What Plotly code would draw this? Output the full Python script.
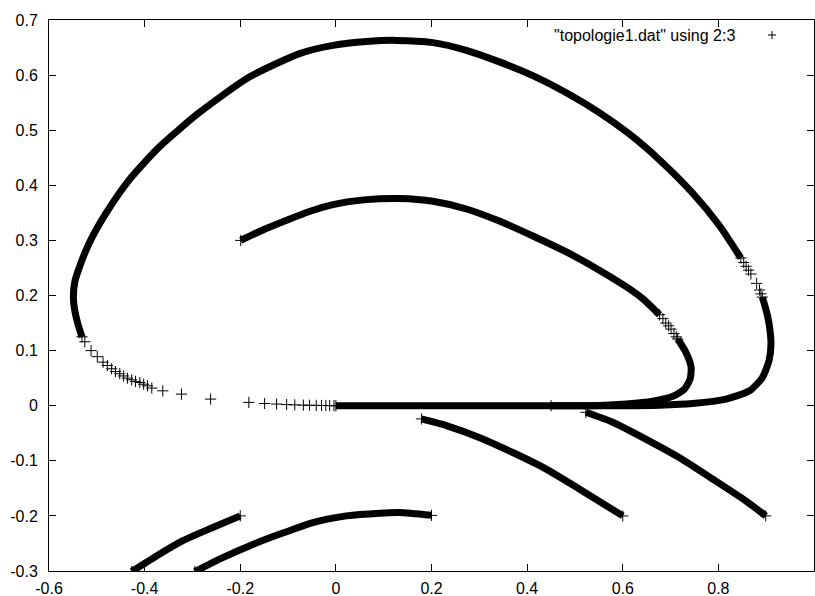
import plotly.graph_objects as go

# ---- data (x = column 2, y = column 3) ----
# outer loop, dense part (upper arc down to the right turning point)
outer_a_x = [-0.531, -0.540, -0.546, -0.549, -0.546, -0.537, -0.516, -0.481, -0.433, -0.370,
             -0.287, -0.182, -0.076, -0.006, 0.064, 0.126, 0.203, 0.273, 0.342, 0.412,
             0.482, 0.551, 0.614, 0.677, 0.746, 0.802, 0.847]
outer_a_y = [0.125, 0.150, 0.172, 0.197, 0.225, 0.250, 0.295, 0.349, 0.409, 0.469,
             0.531, 0.596, 0.639, 0.654, 0.661, 0.663, 0.659, 0.645, 0.624, 0.599,
             0.568, 0.532, 0.493, 0.446, 0.386, 0.327, 0.268]
# outer loop, sparse samples on the right side
outer_gap_x = [0.853, 0.858, 0.863, 0.868, 0.880, 0.886, 0.889]
outer_gap_y = [0.260, 0.253, 0.246, 0.239, 0.222, 0.210, 0.203]
# outer loop, lower branch back along y = 0
outer_b_x = [0.892, 0.900, 0.906, 0.910, 0.906, 0.892, 0.865, 0.816, 0.746, 0.677, 0.600,
             0.500, 0.400, 0.200, 0.000]
outer_b_y = [0.197, 0.173, 0.149, 0.112, 0.082, 0.051, 0.027, 0.012, 0.004, 0.001, 0.000,
             0.000, 0.000, 0.000, 0.000]
# sparse tail on the left
tail_x = [-0.525, -0.512, -0.499, -0.487, -0.478, -0.469, -0.461, -0.452, -0.444, -0.436,
          -0.427, -0.419, -0.410, -0.402, -0.394, -0.385, -0.362, -0.323, -0.262, -0.182,
          -0.149, -0.124, -0.103, -0.086, -0.068, -0.055, -0.041, -0.030, -0.021, -0.013, -0.004]
tail_y = [0.116, 0.100, 0.089, 0.079, 0.073, 0.067, 0.062, 0.058, 0.054, 0.050,
          0.047, 0.044, 0.042, 0.039, 0.036, 0.032, 0.027, 0.021, 0.012, 0.006,
          0.004, 0.003, 0.002, 0.0015, 0.001, 0.0008, 0.0006, 0.0004, 0.0003, 0.0002, 0.0001]
# inner loop
inner_a_x = [-0.199, -0.147, -0.099, -0.057, -0.006, 0.064, 0.133, 0.203, 0.273, 0.342,
             0.412, 0.482, 0.551, 0.607, 0.642, 0.677]
inner_a_y = [0.300, 0.321, 0.338, 0.352, 0.365, 0.374, 0.376, 0.371, 0.357, 0.335,
             0.308, 0.279, 0.246, 0.216, 0.194, 0.165]
inner_gap_x = [0.684, 0.690, 0.696, 0.701, 0.707, 0.712]
inner_gap_y = [0.158, 0.150, 0.145, 0.139, 0.131, 0.125]
inner_b_x = [0.715, 0.732, 0.743, 0.741, 0.729, 0.705, 0.663, 0.607, 0.537, 0.450]
inner_b_y = [0.121, 0.097, 0.070, 0.049, 0.030, 0.017, 0.008, 0.003, 0.000, 0.000]
# lower branches
seg_right_x = [0.523, 0.579, 0.649, 0.718, 0.788, 0.858, 0.899]
seg_right_y = [-0.012, -0.030, -0.061, -0.094, -0.133, -0.173, -0.200]
seg_mid_x = [0.179, 0.231, 0.301, 0.370, 0.440, 0.509, 0.600]
seg_mid_y = [-0.024, -0.036, -0.058, -0.085, -0.115, -0.151, -0.200]
seg_arc_x = [-0.295, -0.240, -0.180, -0.117, -0.048, 0.022, 0.092, 0.133, 0.200]
seg_arc_y = [-0.301, -0.277, -0.254, -0.233, -0.212, -0.200, -0.195, -0.194, -0.199]
seg_left_x = [-0.427, -0.370, -0.320, -0.260, -0.200]
seg_left_y = [-0.301, -0.270, -0.245, -0.222, -0.200]

x_ticks = [-0.6, -0.4, -0.2, 0, 0.2, 0.4, 0.6, 0.8, 1]
x_labels = ["-0.6", "-0.4", "-0.2", "0", "0.2", "0.4", "0.6", "0.8", "1"]
y_ticks = [-0.3, -0.2, -0.1, 0, 0.1, 0.2, 0.3, 0.4, 0.5, 0.6, 0.7]
y_labels = ["-0.3", "-0.2", "-0.1", "0", "0.1", "0.2", "0.3", "0.4", "0.5", "0.6", "0.7"]
legend_label = '"topologie1.dat" using 2:3'

FONT = "Liberation Sans, Arial, Helvetica, sans-serif"
FS = 16
BAND = 7
marker = dict(symbol="cross-thin", size=8, color="black", line=dict(color="black", width=1))

fig = go.Figure()
dense = [(outer_a_x, outer_a_y), (outer_b_x, outer_b_y), (inner_a_x, inner_a_y),
         (inner_b_x, inner_b_y), (seg_right_x, seg_right_y), (seg_mid_x, seg_mid_y),
         (seg_arc_x, seg_arc_y), (seg_left_x, seg_left_y)]
for xs, ys in dense:
    fig.add_trace(go.Scatter(x=xs, y=ys, mode="lines", showlegend=False,
                             line=dict(color="black", width=BAND, shape="spline", smoothing=0.6),
                             hoverinfo="skip"))
# sample markers at the ends of every dense branch
end_x = [v for xs, _ in dense for v in (xs[0], xs[-1])]
end_y = [v for _, ys in dense for v in (ys[0], ys[-1])]
fig.add_trace(go.Scatter(x=end_x, y=end_y, mode="markers", showlegend=False, marker=marker))
for xs, ys in [(tail_x, tail_y), (outer_gap_x, outer_gap_y), (inner_gap_x, inner_gap_y)]:
    fig.add_trace(go.Scatter(x=xs, y=ys, mode="markers", showlegend=False, marker=marker))

axis_common = dict(showgrid=False, zeroline=False, showline=True, linecolor="black",
                   linewidth=1, mirror="allticks", ticks="inside", ticklen=7,
                   tickcolor="black", tickwidth=1, automargin=False,
                   tickfont=dict(family=FONT, size=FS, color="black"))
fig.update_xaxes(range=[-0.6, 1.0], tickvals=x_ticks, ticktext=x_labels,
                 ticklabelstandoff=3, **axis_common)
fig.update_yaxes(range=[-0.3, 0.7], tickvals=y_ticks, ticktext=y_labels,
                 ticklabelstandoff=7, **axis_common)

L, R, T, B = 49, 1, 20, 25.3
W, H = 815, 596
pw, ph = W - L - R, H - T - B
def px2paper(px, py):
    return (px - L) / pw, (H - B - py) / ph

lx, ly = px2paper(737, 35)
fig.add_annotation(x=lx, y=ly, xref="paper", yref="paper", text=legend_label,
                   showarrow=False, xanchor="right", yanchor="middle",
                   font=dict(family=FONT, size=FS, color="black"))
sx, sy = px2paper(772, 35)
arm = 4
fig.add_shape(type="line", xref="paper", yref="paper", xsizemode="pixel", ysizemode="pixel",
              xanchor=sx, yanchor=sy, x0=-arm, x1=arm, y0=0, y1=0, line=dict(color="black", width=1))
fig.add_shape(type="line", xref="paper", yref="paper", xsizemode="pixel", ysizemode="pixel",
              xanchor=sx, yanchor=sy, x0=0, x1=0, y0=-arm, y1=arm, line=dict(color="black", width=1))

fig.update_layout(width=W, height=H, margin=dict(l=L, r=R, t=T, b=B, autoexpand=False),
                  plot_bgcolor="white", paper_bgcolor="white", showlegend=False,
                  font=dict(family=FONT, size=FS, color="black"))
post = ("var d=document.getElementById('{plot_id}');"
        "d.style.overflow='hidden';"
        "if(d.parentElement){d.parentElement.style.overflow='hidden';}"
        "document.body.style.margin='0';document.body.style.padding='0';"
        "document.body.style.overflow='hidden';"
        "document.documentElement.style.overflow='hidden';")
fig.write_html("out.html", config={"displayModeBar": False}, post_script=post)
